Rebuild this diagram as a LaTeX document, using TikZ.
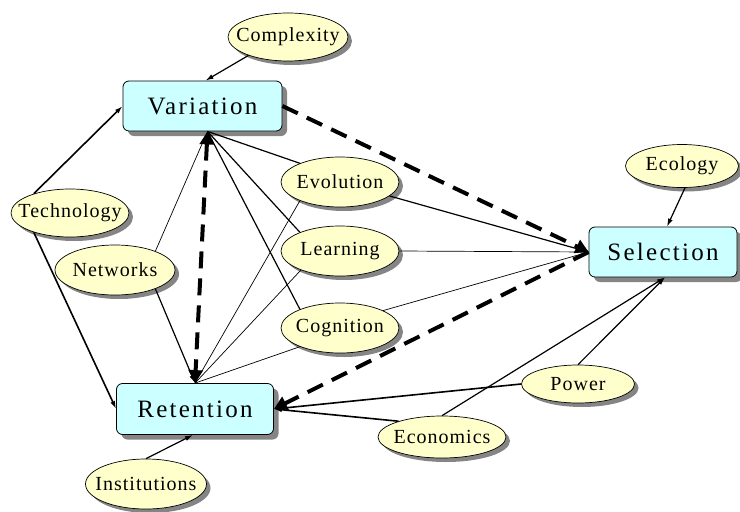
\documentclass[tikz,border=0pt]{standalone}
\usepackage{fontspec}
\setmainfont{Liberation Serif}
\newfontfamily\boxfont[LetterSpace=9]{Liberation Serif}
\newfontfamily\ellfont[LetterSpace=5]{Liberation Serif}
\usetikzlibrary{shapes.geometric,shadows,arrows.meta}
\definecolor{boxfill}{HTML}{CCFFFF}
\definecolor{ellfill}{HTML}{FFFFCC}
\definecolor{shadowgray}{HTML}{858585}
\newcommand\ztext[1]{\makebox[0pt]{#1}}
\begin{document}
\begin{tikzpicture}[x=1pt,y=-1pt,
  concept/.style={draw=black, line width=0.8pt, fill=boxfill, rounded corners=6pt, inner sep=0pt,
    font=\boxfont\fontsize{25}{28}\selectfont,
    drop shadow={shadow xshift=5pt, shadow yshift=-5pt, fill=shadowgray, opacity=1}},
  factor/.style={ellipse, draw=black, line width=0.7pt, fill=ellfill, inner sep=0pt,
    font=\ellfont\fontsize{20}{22}\selectfont,
    drop shadow={shadow xshift=4pt, shadow yshift=-4pt, fill=shadowgray, opacity=1}},
  thickline/.style={line width=1.6pt},
  medline/.style={line width=1.2pt},
  thinline/.style={line width=0.7pt},
  arr/.style={-{Latex[length=8pt,width=5pt]}},
  bigdash/.style={line width=4pt, dash pattern=on 17pt off 10pt, -{Triangle[length=13pt,width=14pt]}},
  bothbig/.style={line width=4pt, dash pattern=on 17pt off 10pt, {Triangle[length=13pt,width=14pt]}-{Triangle[length=13pt,width=14pt]}}
]
\useasboundingbox (0,0) rectangle (740,512);

% concepts
\node[concept, minimum width=159pt, minimum height=50pt] (var) at (202.5,106) {Variation};
\node[concept, minimum width=148pt, minimum height=50pt] (sel) at (663,252) {Selection};
\node[concept, minimum width=157pt, minimum height=51pt] (ret) at (195,409) {Retention};

% factors
\node[factor, minimum width=120pt, minimum height=48pt] (cplx) at (288,37) {\ztext{Complexity}};
\node[factor, minimum width=118pt, minimum height=48pt] (tech) at (70,213) {\ztext{Technology}};
\node[factor, minimum width=120pt, minimum height=50pt] (netw) at (115,270) {\ztext{Networks}};
\node[factor, minimum width=118pt, minimum height=50pt] (evol) at (340,182) {\ztext{Evolution}};
\node[factor, minimum width=118pt, minimum height=50pt] (lear) at (340,251) {\ztext{Learning}};
\node[factor, minimum width=118pt, minimum height=50pt] (cogn) at (340,328) {\ztext{Cognition}};
\node[factor, minimum width=113pt, minimum height=43pt] (ecol) at (682,166) {\ztext{Ecology}};
\node[factor, minimum width=113pt, minimum height=38pt] (power) at (578,384) {\ztext{Power}};
\node[factor, minimum width=128pt, minimum height=42pt] (econ) at (442,437) {\ztext{Economics}};
\node[factor, minimum width=121pt, minimum height=50pt] (inst) at (146,484) {\ztext{Institutions}};

\coordinate (vh) at ([xshift=5pt]var.south);
\coordinate (rh) at (ret.north);

% connectors
\draw[medline, arr] (cplx.205) -- ([xshift=3pt]var.north);
\draw[thickline, arr] (tech.152) -- (var.west);
\draw[thickline, arr] (tech.208) -- (ret.west);
\draw[thinline] (netw.25) -- (vh);
\draw[medline, arr] (netw.-25) -- (rh);
\draw[medline] (vh) -- (evol.155);
\draw[medline] (vh) -- (lear.155);
\draw[medline] (vh) -- (cogn.155);
\draw[thinline] (rh) -- (evol.205);
\draw[thinline] (rh) -- (lear.206);
\draw[thinline] (rh) -- (cogn.205);
\draw[medline, arr] (evol) -- (sel.west);
\draw[thinline] (lear.east) -- (sel.west);
\draw[thinline] (cogn.22) -- (sel.west);
\draw[medline, arr] ([xshift=3pt]ecol.south) -- ([xshift=4pt]sel.north);
\draw[medline, arr] (power.north) -- ([xshift=2pt]sel.south);
\draw[medline, arr] (econ.north) -- ([xshift=2pt]sel.south);
\draw[thickline, arr] (power.west) -- (ret.east);
\draw[thickline, arr] (econ.160) -- (ret.east);
\draw[medline, arr] (inst.north) -- ([xshift=-2pt]ret.south);
\draw[bigdash] (var.east) -- (sel.west);
\draw[bigdash] (sel.west) -- (ret.east);
\draw[bothbig] (vh) -- (rh);
\end{tikzpicture}
\end{document}
